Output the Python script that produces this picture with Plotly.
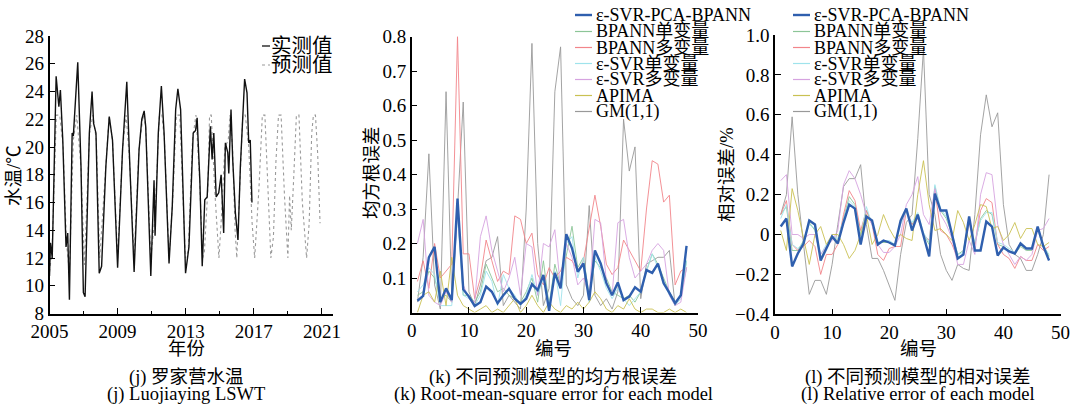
import plotly.graph_objects as go

# ---------------- data ----------------
obs_year = [2005.0, 2005.06, 2005.16, 2005.39, 2005.55, 2005.64, 2005.78, 2005.97, 2006.07, 2006.17,
            2006.33, 2006.40, 2006.66, 2006.85, 2006.99, 2007.09, 2007.34, 2007.50, 2007.59, 2007.73,
            2007.92, 2008.06, 2008.31, 2008.51, 2008.70, 2009.0, 2009.29, 2009.54, 2009.72, 2009.97,
            2010.26, 2010.42, 2010.56, 2010.65, 2010.95, 2011.14, 2011.20, 2011.39, 2011.57, 2011.73,
            2012.02, 2012.21, 2012.41, 2012.54, 2012.70, 2012.99, 2013.19, 2013.44, 2013.58, 2013.67,
            2013.83, 2013.97, 2014.12, 2014.26, 2014.45, 2014.55, 2014.65, 2014.79, 2014.94, 2015.08,
            2015.23, 2015.33, 2015.47, 2015.53, 2015.66, 2015.76, 2015.92, 2016.07, 2016.21, 2016.34,
            2016.46, 2016.60, 2016.70, 2016.79, 2016.89]
obs_temp = [10.7, 13.1, 12.0, 25.1, 22.9, 24.1, 20.5, 12.8, 13.8, 9.0,
            21.0, 20.8, 26.1, 18.6, 9.5, 9.2, 21.0, 24.0, 21.7, 21.0,
            10.9, 11.4, 18.6, 22.2, 20.5, 11.3, 19.8, 24.7, 18.6, 11.0,
            19.8, 22.0, 22.6, 21.5, 10.7, 17.6, 13.6, 21.0, 24.4, 21.0,
            11.6, 15.7, 22.7, 24.2, 22.7, 10.9, 12.8, 21.0, 21.2, 22.1,
            17.6, 11.4, 16.2, 16.4, 21.5, 19.1, 21.0, 16.4, 16.7, 18.0,
            13.8, 20.3, 19.6, 18.1, 22.7, 19.1, 15.2, 13.3, 18.6, 22.2,
            24.9, 23.9, 20.3, 20.5, 16.0]

pred_year = [2005.0, 2005.15, 2005.4, 2005.6, 2005.8, 2006.0, 2006.17, 2006.4, 2006.6, 2006.85,
             2007.05, 2007.35, 2007.55, 2007.75, 2007.95, 2008.3, 2008.5, 2008.7, 2009.0, 2009.3,
             2009.5, 2009.7, 2009.97, 2010.25, 2010.5, 2010.65, 2010.95, 2011.2, 2011.45, 2011.6,
             2011.75, 2012.02, 2012.25, 2012.45, 2012.65, 2012.98, 2013.15, 2013.4, 2013.6, 2013.8,
             2014.0, 2014.1, 2014.3, 2014.4, 2014.5, 2014.7, 2014.85, 2014.95, 2015.1, 2015.3,
             2015.5, 2015.6, 2015.75, 2015.9, 2016.0, 2016.2, 2016.35, 2016.5, 2016.7, 2016.9,
             2017.05, 2017.3, 2017.5, 2017.65, 2017.85, 2018.0, 2018.15, 2018.3, 2018.45, 2018.6,
             2018.8, 2018.9, 2019.0, 2019.1, 2019.2, 2019.35, 2019.5, 2019.65, 2019.85, 2020.1,
             2020.25, 2020.4, 2020.5, 2020.62, 2020.75, 2020.89]
pred_temp = [11.0, 12.5, 22.3, 22.3, 20.0, 13.0, 11.0, 20.5, 22.3, 18.5,
             11.5, 21.0, 22.3, 20.5, 12.0, 18.5, 22.2, 20.5, 12.0, 20.0,
             22.3, 19.0, 12.0, 19.8, 22.3, 21.5, 12.0, 15.0, 22.3, 22.3,
             20.5, 12.0, 16.5, 22.3, 22.3, 12.0, 12.5, 20.5, 22.3, 18.0,
             12.0, 12.5, 17.0, 22.3, 22.3, 17.0, 13.5, 12.0, 15.0, 20.0,
             20.5, 22.3, 20.0, 14.0, 12.0, 17.5, 22.3, 22.3, 20.0, 14.5,
             12.0, 17.0, 22.3, 22.3, 17.0, 12.0, 13.5, 19.0, 22.3, 22.3,
             16.5, 14.0, 12.0, 16.5, 14.0, 18.0, 22.3, 22.3, 16.0, 12.0,
             14.5, 21.0, 22.3, 22.3, 19.5, 14.5]

idx = list(range(1, 49))
model_names = ["ε-SVR-PCA-BPANN", "BPANN单变量", "BPANN多变量", "ε-SVR单变量", "ε-SVR多变量", "APIMA", "GM(1,1)"]

rmse_pca_bpann = [0.034, 0.048, 0.16, 0.19, 0.03, 0.07, 0.036, 0.33, 0.067, 0.046, 0.019, 0.03, 0.075, 0.06, 0.027, 0.05,
                  0.069, 0.04, 0.025, 0.04, 0.082, 0.065, 0.109, 0.005, 0.115, 0.07, 0.227, 0.186, 0.118, 0.142, 0.036, 0.18,
                  0.142, 0.085, 0.05, 0.087, 0.036, 0.046, 0.073, 0.06, 0.123, 0.115, 0.142, 0.085, 0.057, 0.027, 0.05, 0.193]
rmse_bpann_uni = [0.05, 0.06, 0.12, 0.1, 0.04, 0.05, 0.03, 0.3, 0.05, 0.05, 0.03, 0.06, 0.14, 0.1, 0.06, 0.07,
                  0.05, 0.04, 0.03, 0.06, 0.1, 0.03, 0.15, 0.02, 0.14, 0.08, 0.17, 0.25, 0.13, 0.16, 0.05, 0.15,
                  0.13, 0.1, 0.06, 0.05, 0.04, 0.05, 0.03, 0.06, 0.12, 0.17, 0.14, 0.1, 0.06, 0.03, 0.05, 0.15]
rmse_bpann_multi = [0.09, 0.15, 0.07, 0.2, 0.1, 0.12, 0.14, 0.8, 0.17, 0.17, 0.04, 0.1, 0.21, 0.15, 0.09, 0.12,
                    0.11, 0.28, 0.27, 0.2, 0.23, 0.11, 0.08, 0.13, 0.1, 0.12, 0.16, 0.15, 0.12, 0.15, 0.24, 0.34,
                    0.25, 0.14, 0.11, 0.13, 0.21, 0.18, 0.15, 0.12, 0.3, 0.44, 0.43, 0.32, 0.34, 0.08, 0.12, 0.13]
rmse_svr_uni = [0.06, 0.08, 0.13, 0.11, 0.02, 0.02, 0.02, 0.28, 0.05, 0.04, 0.02, 0.05, 0.12, 0.09, 0.02, 0.11,
                0.07, 0.05, 0.02, 0.05, 0.11, 0.05, 0.1, 0.02, 0.12, 0.02, 0.2, 0.22, 0.1, 0.16, 0.03, 0.16,
                0.12, 0.07, 0.04, 0.07, 0.04, 0.02, 0.04, 0.06, 0.12, 0.17, 0.13, 0.09, 0.05, 0.02, 0.04, 0.15]
rmse_svr_multi = [0.2, 0.27, 0.05, 0.03, 0.02, 0.06, 0.03, 0.29, 0.08, 0.04, 0.03, 0.22, 0.28, 0.18, 0.12, 0.06,
                  0.1, 0.16, 0.05, 0.2, 0.19, 0.05, 0.2, 0.19, 0.24, 0.07, 0.2, 0.16, 0.08, 0.1, 0.05, 0.27,
                  0.26, 0.09, 0.05, 0.26, 0.27, 0.16, 0.1, 0.12, 0.14, 0.18, 0.2, 0.18, 0.05, 0.02, 0.03, 0.13]
rmse_apima = [0.0, 0.05, 0.06, 0.03, 0.12, 0.02, 0.16, 0.05, 0.02, 0.01, 0.0, 0.01, 0.02, 0.0, 0.01, 0.0,
              0.02, 0.04, 0.0, 0.02, 0.05, 0.02, 0.0, 0.03, 0.01, 0.0, 0.02, 0.01, 0.03, 0.01, 0.03, 0.06,
              0.04, 0.01, 0.0, 0.02, 0.01, 0.04, 0.01, 0.0, 0.01, 0.01, 0.0, 0.0, 0.01, 0.0, 0.01, 0.0]
rmse_gm = [0.03, 0.16, 0.46, 0.08, 0.01, 0.64, 0.04, 0.30, 0.61, 0.06, 0.02, 0.08, 0.15, 0.16, 0.22, 0.02,
           0.05, 0.03, 0.01, 0.30, 0.78, 0.20, 0.02, 0.07, 0.64, 0.77, 0.08, 0.04, 0.02, 0.05, 0.31, 0.05,
           0.02, 0.04, 0.01, 0.06, 0.56, 0.41, 0.48, 0.04, 0.14, 0.15, 0.16, 0.16, 0.18, 0.02, 0.05, 0.13]

rel_pca_bpann = [0.04, 0.08, -0.16, -0.095, -0.045, 0.07, 0.05, -0.13, -0.07, -0.01, -0.045, 0.06, 0.15, 0.13, -0.05, 0.09,
                 0.07, -0.05, -0.03, -0.04, -0.055, 0.07, 0.13, 0.02, 0.10, -0.01, -0.11, 0.205, 0.12, 0.12, 0.0, -0.12,
                 -0.10, 0.09, -0.08, -0.08, 0.065, 0.04, -0.105, -0.065, -0.085, -0.095, -0.045, -0.07, -0.07, 0.04, -0.06, -0.13]
rel_bpann_uni = [0.1, 0.14, -0.08, -0.08, -0.03, 0.06, 0.02, -0.12, -0.06, -0.02, -0.03, 0.08, 0.19, 0.15, 0.0, 0.12,
                 0.06, -0.04, -0.04, -0.04, -0.05, 0.06, 0.12, 0.05, 0.1, 0.0, -0.05, 0.24, 0.12, 0.08, 0.0, -0.1,
                 -0.08, 0.08, -0.05, 0.08, 0.12, 0.1, -0.05, -0.06, -0.08, -0.1, -0.06, -0.08, -0.08, 0.03, -0.05, -0.11]
rel_bpann_multi = [0.1, 0.17, -0.05, -0.08, -0.06, -0.03, -0.06, -0.2, -0.1, -0.1, -0.05, 0.1, 0.22, 0.17, 0.02, 0.12,
                   0.05, -0.1, -0.13, -0.07, -0.06, -0.06, 0.12, 0.05, 0.08, 0.0, -0.03, 0.22, 0.02, 0.0, -0.05, -0.12,
                   -0.1, 0.06, -0.05, 0.12, 0.18, 0.16, -0.05, -0.1, -0.12, -0.17, -0.11, -0.13, -0.13, -0.05, -0.08, -0.06]
rel_svr_uni = [0.08, 0.15, -0.05, -0.07, -0.04, 0.05, 0.03, -0.1, -0.05, -0.01, -0.02, 0.07, 0.17, 0.14, -0.01, 0.14,
               0.05, -0.04, -0.03, -0.03, -0.05, 0.05, 0.11, 0.06, 0.11, 0.01, -0.04, 0.25, 0.13, 0.09, 0.01, -0.1,
               -0.09, 0.07, -0.04, 0.07, 0.11, 0.11, -0.04, -0.05, -0.07, -0.09, -0.05, -0.07, -0.07, 0.02, -0.06, -0.1]
rel_svr_multi = [0.27, 0.3, 0.0, 0.0, -0.02, 0.0, 0.0, -0.1, -0.06, -0.03, 0.02, 0.25, 0.32, 0.28, 0.2, 0.1,
                 0.05, -0.05, -0.09, -0.09, -0.06, 0.0, 0.15, 0.2, 0.29, 0.1, 0.05, 0.23, 0.1, 0.05, -0.02, -0.15,
                 -0.15, -0.03, -0.1, 0.2, 0.31, 0.3, 0.05, -0.05, -0.1, -0.15, -0.11, -0.13, -0.1, 0.02, 0.03, 0.08]
rel_apima = [0.02, -0.08, 0.23, 0.12, -0.02, -0.15, 0.0, 0.04, -0.05, 0.0, 0.0, -0.05, -0.12, -0.08, 0.0, 0.1,
             -0.05, 0.0, 0.1, 0.03, -0.02, 0.0, -0.02, -0.03, 0.2, 0.37, 0.15, 0.02, 0.03, 0.0, -0.03, 0.12,
             0.06, -0.03, 0.05, 0.15, 0.14, 0.03, 0.04, -0.03, 0.0, 0.06, -0.02, 0.03, 0.03, -0.05, -0.06, -0.04]
rel_gm = [0.1, 0.2, 0.59, 0.2, -0.05, -0.3, -0.23, -0.23, -0.3, -0.15, 0.05, 0.24, 0.28, 0.28, 0.35, 0.05,
          -0.12, -0.12, -0.18, -0.26, -0.33, -0.1, 0.06, 0.1, 0.48, 0.93, 0.2, 0.1, -0.1, -0.18, -0.23, -0.15,
          -0.17, -0.18, 0.1, 0.5, 0.7, 0.54, 0.61, 0.15, -0.05, -0.1, -0.12, -0.18, -0.18, -0.1, 0.0, 0.3]

rmse_series = [rmse_pca_bpann, rmse_bpann_uni, rmse_bpann_multi, rmse_svr_uni, rmse_svr_multi, rmse_apima, rmse_gm]
rel_series = [rel_pca_bpann, rel_bpann_uni, rel_bpann_multi, rel_svr_uni, rel_svr_multi, rel_apima, rel_gm]

year_ticks = [2005, 2009, 2013, 2017, 2021]
year_minor = [2007, 2011, 2015, 2019]
temp_ticks = [8, 10, 12, 14, 16, 18, 20, 22, 24, 26, 28]
rmse_ticks = [0.1, 0.2, 0.3, 0.4, 0.5, 0.6, 0.7, 0.8]
rel_ticks = [-0.4, -0.2, 0, 0.2, 0.4, 0.6, 0.8, 1.0]
rel_labels = ["\u22120.4", "\u22120.2", "0", "0.2", "0.4", "0.6", "0.8", "1.0"]
idx_ticks = [0, 10, 20, 30, 40, 50]

# ---------------- style ----------------
W, H = 1079, 408
FONT = "Liberation Serif, Noto Sans CJK SC, serif"
colors = ["#2f5fae", "#8cc597", "#f2858a", "#9fe3ec", "#d6a3e0", "#c9c152", "#999999"]
widths = [2.4, 0.9, 0.9, 0.9, 0.9, 0.9, 0.9]


def px(x):
    return x / W


def py(y):
    return 1 - y / H


fig = go.Figure()

# panel (j)
fig.add_trace(go.Scatter(x=pred_year, y=pred_temp, mode="lines", xaxis="x", yaxis="y",
                         line=dict(color="#9a9a9a", width=1.1, dash="dot"), showlegend=False))
fig.add_trace(go.Scatter(x=obs_year, y=obs_temp, mode="lines", xaxis="x", yaxis="y",
                         line=dict(color="#111111", width=1.4), showlegend=False))

# panels (k) and (l); thin ones first, the bold blue on top
order = [6, 1, 2, 3, 4, 5, 0]
for k in order:
    fig.add_trace(go.Scatter(x=idx, y=rmse_series[k], mode="lines", xaxis="x2", yaxis="y2",
                             line=dict(color=colors[k], width=widths[k]), showlegend=False))
for k in order:
    fig.add_trace(go.Scatter(x=idx, y=rel_series[k], mode="lines", xaxis="x3", yaxis="y3",
                             line=dict(color=colors[k], width=widths[k]), showlegend=False))

axis_common = dict(showline=True, linecolor="black", linewidth=1.5, ticks="inside", ticklen=6,
                   tickwidth=1.3, tickcolor="black", showgrid=False, zeroline=False, automargin=False,
                   tickfont=dict(family=FONT, size=19, color="black"))

fig.update_layout(
    template="none",
    width=W, height=H, margin=dict(l=0, r=0, t=0, b=0, pad=0, autoexpand=False),
    paper_bgcolor="white", plot_bgcolor="white", showlegend=False,
    font=dict(family=FONT, size=18, color="black"),
    xaxis=dict(domain=[px(49.5), px(333)], range=[2005, 2021.65], tickvals=year_ticks,
               minor=dict(tickvals=year_minor, ticks="inside", ticklen=3, tickcolor="black", tickwidth=1,
                          showgrid=False),
               anchor="y", **axis_common),
    yaxis=dict(domain=[py(313.5), py(36)], range=[8, 28], tickvals=temp_ticks, anchor="x", **axis_common),
    xaxis2=dict(domain=[px(411.7), px(698)], range=[0, 50], tickvals=idx_ticks, anchor="y2", **axis_common),
    yaxis2=dict(domain=[py(312.5), py(36.5)], range=[0, 0.8], tickvals=rmse_ticks,
                ticktext=[f"{v:.1f}" for v in rmse_ticks], anchor="x2", **axis_common),
    xaxis3=dict(domain=[px(775), px(1060.5)], range=[0, 50], tickvals=idx_ticks, anchor="y3", **axis_common),
    yaxis3=dict(domain=[py(314.3), py(35)], range=[-0.4, 1.0], tickvals=rel_ticks, ticktext=rel_labels,
                anchor="x3", **axis_common),
)

annotations = []
shapes = []


def text(x, y, s, size=18.5, angle=0, xanchor="center"):
    annotations.append(dict(x=px(x), y=py(y), xref="paper", yref="paper", text=s, showarrow=False,
                            xanchor=xanchor, yanchor="middle", textangle=angle, borderpad=0,
                            font=dict(family=FONT, size=size, color="black")))


# axis titles
text(14, 176, "水温/℃", angle=-90)
text(186, 349, "年份")
text(372, 173, "均方根误差", angle=-90)
text(553, 349, "编号")
text(727, 175, "相对误差/%", angle=-90)
text(918, 349, "编号")

# captions
text(186, 377, "(j) 罗家营水温")
text(186, 394, "(j) Luojiaying LSWT")
text(553, 377, "(k) 不同预测模型的均方根误差")
text(553, 394, "(k) Root-mean-square error for each model")
text(918, 377, "(l) 不同预测模型的相对误差")
text(918, 394, "(l) Relative error of each model")

# legend (j)
shapes.append(dict(type="line", xref="paper", yref="paper", x0=px(262), x1=px(270), y0=py(46), y1=py(46),
                   line=dict(color="#111111", width=1.3)))
text(270, 46, "实测值", size=20.5, xanchor="left")
shapes.append(dict(type="line", xref="paper", yref="paper", x0=px(262), x1=px(270), y0=py(65), y1=py(65),
                   line=dict(color="#9a9a9a", width=1.1, dash="dot")))
text(270, 65, "预测值", size=20.5, xanchor="left")

# legends (k), (l)
rows = [15, 31.5, 47.5, 63.5, 79.5, 95.5, 111.5]
for lx0, lx1, tx in [(575, 592, 595), (793, 810, 813)]:
    for k, (name, ry) in enumerate(zip(model_names, rows)):
        shapes.append(dict(type="line", xref="paper", yref="paper", x0=px(lx0), x1=px(lx1), y0=py(ry), y1=py(ry),
                           line=dict(color=colors[k], width=max(widths[k], 1.2))))
        text(tx, ry, name, size=18, xanchor="left")

fig.update_layout(annotations=annotations, shapes=shapes)
fig.write_html("out.html", config={"displayModeBar": False},
               post_script="document.body.style.margin='0px';document.body.style.overflow='hidden';")
